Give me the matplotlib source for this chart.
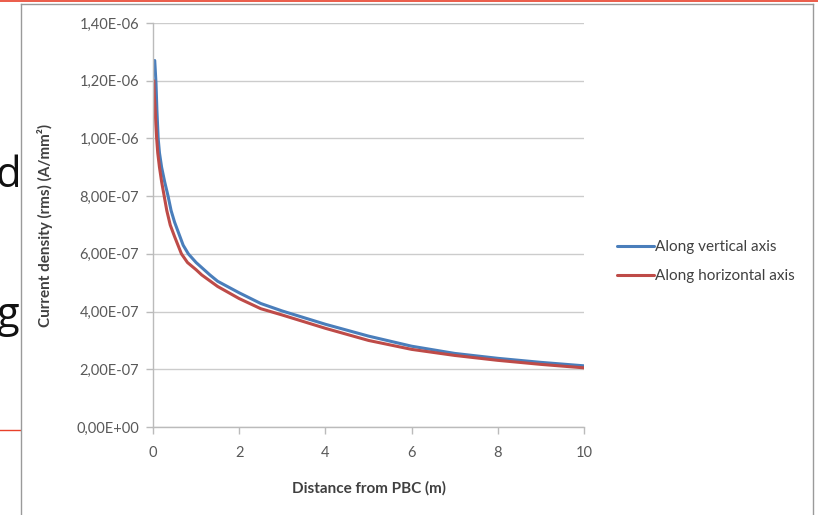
import matplotlib
matplotlib.use("Agg")
import matplotlib.pyplot as plt
from matplotlib.lines import Line2D

plt.rcParams['font.family'] = ['Lato', 'DejaVu Sans']

# values (x in m, current density in A/mm2)
x_vertical = [0.04, 0.07, 0.09, 0.12, 0.15, 0.2, 0.27, 0.35, 0.42, 0.5, 0.6, 0.7, 0.82, 1.0, 1.32, 1.5,
              2.0, 2.5, 3.0, 4.0, 5.0, 6.0, 7.0, 8.0, 9.0, 10.0]
j_vertical = [12.7e-7, 11.9e-7, 11.0e-7, 10.0e-7, 9.5e-7, 9.0e-7, 8.5e-7, 8.0e-7, 7.5e-7, 7.1e-7, 6.7e-7, 6.3e-7,
              6.0e-7, 5.7e-7, 5.27e-7, 5.05e-7, 4.65e-7, 4.28e-7, 4.02e-7, 3.56e-7, 3.15e-7, 2.80e-7, 2.55e-7,
              2.38e-7, 2.24e-7, 2.12e-7]

x_horizontal = [0.02, 0.03, 0.05, 0.065, 0.085, 0.11, 0.15, 0.2, 0.26, 0.32, 0.4, 0.5, 0.66, 0.8, 1.0, 1.13, 1.5,
                2.0, 2.5, 3.0, 4.0, 5.0, 6.0, 7.0, 8.0, 9.0, 10.0]
j_horizontal = [12.0e-7, 11.5e-7, 11.0e-7, 10.5e-7, 10.0e-7, 9.5e-7, 9.0e-7, 8.5e-7, 8.0e-7, 7.5e-7, 7.0e-7,
                6.6e-7, 6.0e-7, 5.7e-7, 5.45e-7, 5.27e-7, 4.87e-7, 4.45e-7, 4.10e-7, 3.88e-7, 3.42e-7, 3.00e-7,
                2.69e-7, 2.48e-7, 2.31e-7, 2.17e-7, 2.05e-7]

series_names = ['Along vertical axis', 'Along horizontal axis']
series_colors = ['#4a7ebb', '#be4b48']

x_ticks = [0, 2, 4, 6, 8, 10]
y_ticks = [0, 2e-7, 4e-7, 6e-7, 8e-7, 1.0e-6, 1.2e-6, 1.4e-6]
y_tick_labels = ['0,00E+00', '2,00E-07', '4,00E-07', '6,00E-07', '8,00E-07',
                 '1,00E-06', '1,20E-06', '1,40E-06']

W, H = 818, 515
fig = plt.figure(figsize=(W / 100, H / 100), dpi=100)
fig.patch.set_facecolor('white')

# slide decorations around the embedded chart
fig.add_artist(Line2D([0, 1], [1 - 1.2 / H, 1 - 1.2 / H], color='#e8402a', lw=1.2))
fig.add_artist(Line2D([0, 20 / W], [1 - 430 / H, 1 - 430 / H], color='#e8402a', lw=1.0))
fig.text(-4 / W, 1 - 187 / H, 'd', fontsize=30, color='#111111', family=['Open Sans', 'DejaVu Sans'])
fig.text(-4 / W, 1 - 327 / H, 'g', fontsize=30, color='#111111', family=['Open Sans', 'DejaVu Sans'])

# chart frame
frame_col = '#9a9a9a'
fig.add_artist(Line2D([20.5 / W, 20.5 / W], [0, 1 - 4 / H], color=frame_col, lw=1.0))
fig.add_artist(Line2D([20.5 / W, 812.5 / W], [1 - 4 / H, 1 - 4 / H], color=frame_col, lw=1.0))
fig.add_artist(Line2D([812.5 / W, 812.5 / W], [0, 1 - 4 / H], color=frame_col, lw=1.0))

ax = fig.add_axes([153 / W, 1 - 427 / H, (584 - 153) / W, (427 - 23) / H])

ax.plot(x_vertical, j_vertical, color=series_colors[0], lw=2.2, label=series_names[0],
        solid_capstyle='round', solid_joinstyle='round')
ax.plot(x_horizontal, j_horizontal, color=series_colors[1], lw=2.2, label=series_names[1],
        solid_capstyle='round', solid_joinstyle='round')

ax.set_xlim(0, 10)
ax.set_ylim(0, 1.4e-6)
ax.set_xticks(x_ticks)
ax.set_xticklabels([str(t) for t in x_ticks])
ax.set_yticks(y_ticks)
ax.set_yticklabels(y_tick_labels)

grid_col = '#cccccc'
ax.grid(axis='y', color=grid_col, lw=1.0)
ax.set_axisbelow(True)
for side in ['top', 'right']:
    ax.spines[side].set_visible(False)
for side in ['left', 'bottom']:
    ax.spines[side].set_color('#bbbbbb')
    ax.spines[side].set_linewidth(1.0)
ax.tick_params(axis='both', colors='#bbbbbb', length=5, width=1.0, labelcolor='#595959', labelsize=10.5)
ax.tick_params(axis='y', pad=5)
ax.tick_params(axis='x', pad=9)

xl = ax.set_xlabel('Distance from PBC (m)', fontsize=11, fontweight='bold', color='#404040')
yl = ax.set_ylabel('Current density (rms) (A/mm²)', fontsize=11, fontweight='bold', color='#404040')
ax.xaxis.set_label_coords(0.5, (427 - 488) / 404)
ax.yaxis.set_label_coords((45 - 153) / 431, 0.5)
xl.set_verticalalignment('center')
yl.set_verticalalignment('center')

leg = ax.legend(loc='center left', bbox_to_anchor=(617 / W, 1 - 261.5 / H), bbox_transform=fig.transFigure,
                frameon=False, fontsize=11, handlelength=2.4, handletextpad=0.1,
                labelspacing=1.0, borderpad=0, borderaxespad=0)
for t in leg.get_texts():
    t.set_color('#404040')

fig.savefig('out.png', dpi=100, facecolor='white')
